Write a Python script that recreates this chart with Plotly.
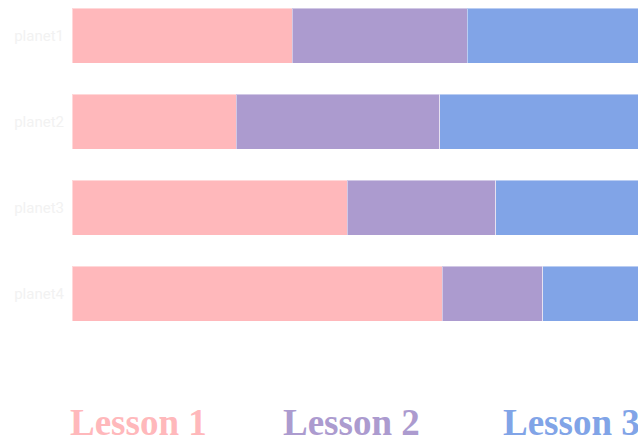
import plotly.graph_objects as go

planets = ["planet1", "planet2", "planet3", "planet4"]
lessons = ["Lesson 1", "Lesson 2", "Lesson 3"]
lesson1 = [38.9, 29.0, 48.6, 65.4]
lesson2 = [30.9, 36.0, 26.3, 17.8]
lesson3 = [40.0, 45.0, 35.0, 30.0]
colors = ["#FFB8BB", "#AC9BCF", "#81A4E7"]

fig = go.Figure()
for name, vals, c in zip(lessons, [lesson1, lesson2, lesson3], colors):
    fig.add_trace(go.Bar(
        y=planets, x=vals, name=name, orientation="h",
        marker=dict(color=c, line=dict(color="rgba(255,255,255,0.45)", width=1)),
        showlegend=False, hoverinfo="skip",
    ))

label_x = [68, 281, 501]
for name, c, lx in zip(lessons, colors, label_x):
    fig.add_annotation(
        text=name, xref="paper", yref="paper",
        x=(lx - 72) / 566, y=-0.218, xanchor="left", yanchor="middle",
        showarrow=False,
        font=dict(family="Liberation Serif", size=37, color=c, weight="bold"),
    )

fig.update_layout(
    width=638, height=439,
    barmode="stack", bargap=0.36,
    margin=dict(l=72, r=0, t=8, b=91),
    paper_bgcolor="white", plot_bgcolor="white",
    xaxis=dict(range=[0, 100], visible=False, fixedrange=True),
    yaxis=dict(range=[3.633, -0.320], autorange=False, fixedrange=True,
               categoryorder="array", categoryarray=planets,
               showgrid=False, zeroline=False, showline=False,
               ticks="", ticklabelstandoff=7,
               tickfont=dict(family="Roboto", size=15, color="#f2f2f2")),
)

fig.write_html(
    "out.html",
    config={"displayModeBar": False},
    post_script="document.body.style.margin='0';document.body.style.overflow='hidden';",
)
